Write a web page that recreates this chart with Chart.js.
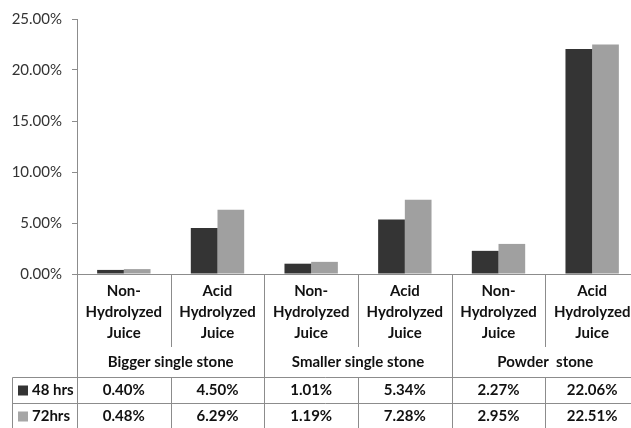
<!DOCTYPE html>
<html>
<head>
<meta charset="utf-8">
<script src="https://cdn.jsdelivr.net/npm/chart.js@4/dist/chart.umd.min.js"></script>
<style>
  html, body { margin: 0; padding: 0; background: #fff; overflow: hidden; }
  #wrap { width: 639px; height: 428px; }
</style>
</head>
<body>
<div id="wrap"><canvas id="c" width="639" height="428"></canvas></div>
<script>
// Categories (sample treatment) and their stone groups
const categories = [
  ['Non-', 'Hydrolyzed', 'Juice'],
  ['Acid', 'Hydrolyzed', 'Juice'],
  ['Non-', 'Hydrolyzed', 'Juice'],
  ['Acid', 'Hydrolyzed', 'Juice'],
  ['Non-', 'Hydrolyzed', 'Juice'],
  ['Acid', 'Hydrolyzed', 'Juice']
];
const groups = ['Bigger single stone', 'Smaller single stone', 'Powder  stone'];
const groupSize = 2;

// Series values in percent
const seriesNames = ['48 hrs', '72hrs'];
const hrs48 = [0.40, 4.50, 1.01, 5.34, 2.27, 22.06];
const hrs72 = [0.48, 6.29, 1.19, 7.28, 2.95, 22.51];

// Y axis ticks
const yMin = 0, yMax = 25, yStep = 5;

const seriesColors = ['#343434', '#a0a0a0'];
const legendColors = ['#343434', '#a6a6a6'];
const lineColor = '#8c8c8c';
const FONT = 'Lato, "Liberation Sans", sans-serif';

const dataTable = {
  id: 'dataTable',
  afterDraw(chart) {
    const { ctx, chartArea, scales } = chart;
    const x = scales.x;
    const H = chart.height, W = chart.width;
    const axisY = chartArea.bottom;
    const rowTop = 377.5, rowMid = 403.5;
    const tableLeft = 12.5;
    const snap = v => Math.round(v) + 0.5;

    ctx.save();
    ctx.strokeStyle = lineColor;
    ctx.lineWidth = 1;
    ctx.beginPath();
    // extend the value axis line down through the table
    ctx.moveTo(snap(chartArea.left), axisY);
    ctx.lineTo(snap(chartArea.left), H);
    // table row rules
    ctx.moveTo(tableLeft, rowTop); ctx.lineTo(W, rowTop);
    ctx.moveTo(tableLeft, rowMid); ctx.lineTo(W, rowMid);
    ctx.moveTo(tableLeft, rowTop); ctx.lineTo(tableLeft, H);
    // category separators
    for (let i = 1; i < categories.length; i++) {
      const bx = snap((x.getPixelForValue(i - 1) + x.getPixelForValue(i)) / 2);
      if (i % groupSize === 0) {
        ctx.moveTo(bx, axisY); ctx.lineTo(bx, H);
      } else {
        ctx.moveTo(bx, axisY); ctx.lineTo(bx, 347);
        ctx.moveTo(bx, rowTop); ctx.lineTo(bx, H);
      }
    }
    ctx.stroke();

    // group labels
    ctx.fillStyle = '#111';
    ctx.font = 'bold 15px ' + FONT;
    ctx.textAlign = 'center';
    ctx.textBaseline = 'middle';
    groups.forEach((g, gi) => {
      const a = x.getPixelForValue(gi * groupSize);
      const b = x.getPixelForValue(gi * groupSize + groupSize - 1);
      ctx.fillText(g, (a + b) / 2, 362);
    });

    // data rows
    const rows = [hrs48, hrs72];
    const rowCenters = [390.5, 416.5];
    rows.forEach((vals, ri) => {
      const cy = rowCenters[ri];
      ctx.fillStyle = legendColors[ri];
      ctx.fillRect(18, cy - 5, 10, 10);
      ctx.fillStyle = '#111';
      ctx.textAlign = 'left';
      ctx.fillText(seriesNames[ri], 32, cy);
      ctx.textAlign = 'center';
      vals.forEach((v, ci) => {
        ctx.fillText(v.toFixed(2) + '%', x.getPixelForValue(ci), cy);
      });
    });
    ctx.restore();
  }
};

new Chart(document.getElementById('c'), {
  type: 'bar',
  data: {
    labels: categories,
    datasets: [
      { label: seriesNames[0], data: hrs48, backgroundColor: seriesColors[0] },
      { label: seriesNames[1], data: hrs72, backgroundColor: seriesColors[1] }
    ]
  },
  options: {
    responsive: false,
    animation: false,
    devicePixelRatio: 1,
    layout: { padding: { left: 0, right: 0, top: 0, bottom: 0 } },
    plugins: { legend: { display: false }, tooltip: { enabled: false } },
    datasets: { bar: { categoryPercentage: 0.57, barPercentage: 1.0 } },
    scales: {
      x: {
        grid: { display: false },
        border: { display: true, color: lineColor, width: 1 },
        ticks: {
          color: '#111',
          padding: -1,
          maxRotation: 0,
          autoSkip: false,
          font: { family: FONT, size: 15, weight: 'bold', lineHeight: 1.38 }
        },
        afterFit(scale) { scale.height = 154; }
      },
      y: {
        min: yMin,
        max: yMax,
        grid: { display: true, drawOnChartArea: false, drawTicks: true, tickLength: 5, color: lineColor },
        border: { display: true, color: lineColor, width: 1 },
        ticks: {
          stepSize: yStep,
          padding: 10,
          color: '#333',
          font: { family: FONT, size: 15 },
          callback: v => v.toFixed(2) + '%'
        },
        afterFit(scale) { scale.width = 77; }
      }
    }
  },
  plugins: [dataTable]
});
</script>
</body>
</html>
